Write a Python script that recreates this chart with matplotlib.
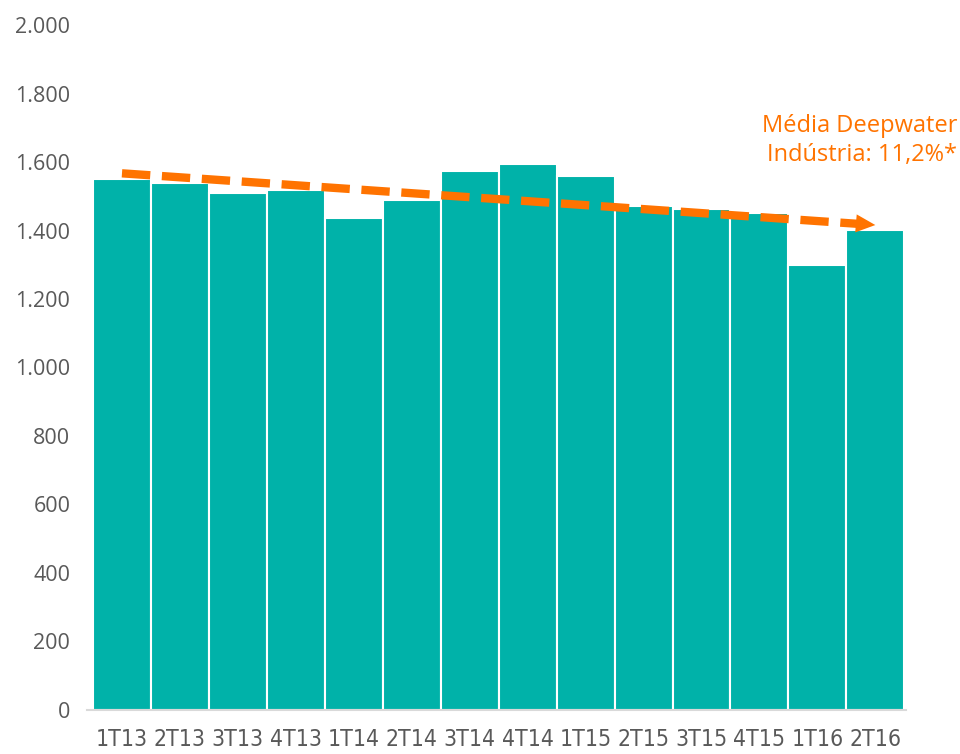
import matplotlib.pyplot as plt
import matplotlib as mpl
import numpy as np

mpl.rcParams["font.family"] = ["Open Sans", "DejaVu Sans"]

# data
categories = ['1T13', '2T13', '3T13', '4T13', '1T14', '2T14', '3T14',
              '4T14', '1T15', '2T15', '3T15', '4T15', '1T16', '2T16']
values = [1551, 1539, 1509, 1518, 1437, 1489, 1575,
          1594, 1560, 1472, 1463, 1451, 1298, 1402]
trend_start = 1567
trend_end = 1416
y_ticks = [0, 200, 400, 600, 800, 1000, 1200, 1400, 1600, 1800, 2000]
y_labels = ['0', '200', '400', '600', '800', '1.000', '1.200', '1.400',
            '1.600', '1.800', '2.000']
note = 'Média Deepwater\nIndústria: 11,2%*'

bar_color = '#00B2A9'
orange = '#FF7300'
gray = '#595959'

fig = plt.figure(figsize=(9.6, 7.54), dpi=100)
ax = fig.add_axes([0.0906, 0.0584, 0.8532, 0.9084])

x = np.arange(len(categories))
ax.bar(x, values, width=1.0, color=bar_color, edgecolor='white', linewidth=1.5, zorder=2)

# trend arrow
ax.plot([x[0], x[-1] - 0.3], [trend_start, trend_start + (trend_end - trend_start) * (x[-1] - 0.3) / x[-1]],
        color=orange, linewidth=6, dashes=(3.4, 1.4), zorder=3, solid_capstyle='butt')
ax.annotate('', xy=(x[-1], trend_end), xytext=(x[-1] - 0.35, trend_end + 5),
            arrowprops=dict(arrowstyle='-|>,head_length=1.4,head_width=0.65',
                            color=orange, lw=0, shrinkA=0, shrinkB=0), zorder=4)

ax.set_xlim(-0.604, 13.53)
ax.set_ylim(0, 2000)
ax.set_yticks(y_ticks)
ax.set_yticklabels(y_labels, fontsize=15.5, color=gray)
ax.set_xticks(x)
ax.set_xticklabels(categories, fontsize=16.5, color=gray,
                   fontfamily='DejaVu Sans', fontstretch='condensed')
ax.tick_params(axis='both', length=0)
ax.tick_params(axis='y', pad=12)
ax.tick_params(axis='x', pad=13)

for s in ['top', 'right', 'left']:
    ax.spines[s].set_visible(False)
ax.spines['bottom'].set_color('#D9D9D9')
ax.spines['bottom'].set_linewidth(1.5)

fig.text(0.997, 0.814, note, ha='right', va='center', color=orange,
         fontsize=17, linespacing=1.3)

fig.savefig('out.png', dpi=100)
